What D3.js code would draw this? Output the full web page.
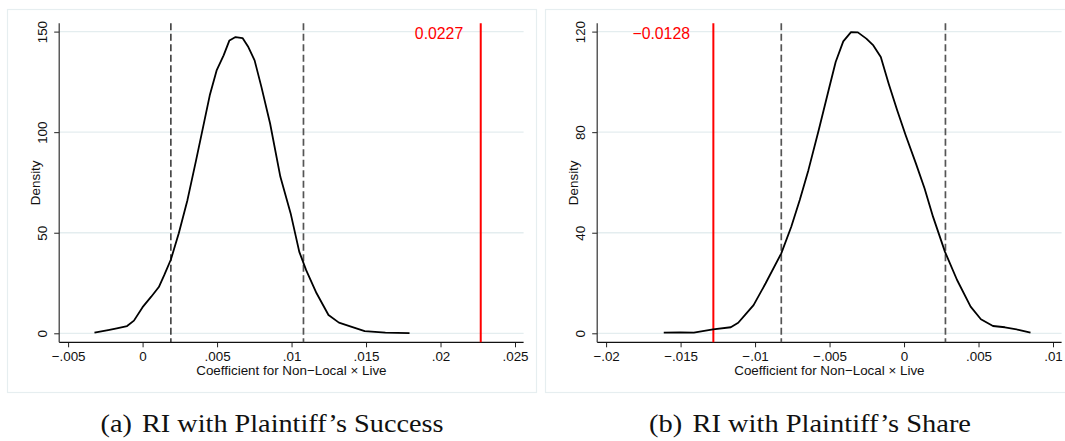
<!DOCTYPE html>
<html>
<head>
<meta charset="utf-8">
<script src="https://cdn.jsdelivr.net/npm/d3@7"></script>
<style>
  body { margin: 0; background: #fff; }
  text { font-family: "Liberation Sans", Arial, Helvetica, sans-serif; }
</style>
</head>
<body>
<svg id="chart" width="1065" height="441"></svg>
<script>
// density of the RI coefficients
const successX = [-0.00323, -0.00231, -0.00173, -0.00104, -0.00058, 0, 0.00058, 0.00109, 0.00146, 0.0019,
  0.00243, 0.00301, 0.00359, 0.00416, 0.00451, 0.00497, 0.00544, 0.00583, 0.00624, 0.00671,
  0.0071, 0.00752, 0.00798, 0.00856, 0.00925, 0.00994, 0.01052, 0.01098, 0.01168, 0.01248,
  0.01318, 0.01399, 0.01491, 0.0163, 0.01792]
const successY = [0.3, 1.6, 2.5, 3.6, 6.3, 13, 18.2, 23, 29, 36.7,
  49.7, 66.2, 86, 106, 118.3, 130.7, 138.2, 145.6, 147.3, 146.8,
  142.3, 135.7, 122.4, 104.3, 77.8, 59.6, 40.5, 31.4, 19.9, 9.1,
  5.3, 3.3, 1.1, 0.3, 0.1]
const successTicksX = [-0.005, 0, 0.005, 0.01, 0.015, 0.02, 0.025]
const successTicksY = [0, 50, 100, 150]
const successBounds = [0.0019, 0.0108]
const successActual = 0.0227
const successLabelAt = 0.0199

const shareX = [-0.01613, -0.01503, -0.01411, -0.01282, -0.01163, -0.01113, -0.01067, -0.0101, -0.00929, -0.00824,
  -0.00757, -0.007, -0.00642, -0.00573, -0.00504, -0.00459, -0.00408, -0.00356, -0.0031, -0.00253,
  -0.00206, -0.00156, -0.00103, -0.00046, 0.00011, 0.0008, 0.00138, 0.00195, 0.00275, 0.00356,
  0.00447, 0.00516, 0.00597, 0.00677, 0.00769, 0.00849]
const shareY = [0.3, 0.4, 0.3, 1.6, 2.4, 4.2, 7.3, 11.2, 19.9, 31.8,
  42.4, 53, 64.9, 80.8, 97.3, 107.9, 116.1, 119.8, 119.7, 117.2,
  114.5, 109.9, 99.3, 88.7, 78.8, 67.5, 57.6, 46.3, 32.4, 21.2,
  10.6, 5.6, 2.9, 2.4, 1.4, 0.3]
const shareTicksX = [-0.02, -0.015, -0.01, -0.005, 0, 0.005, 0.01]
const shareTicksY = [0, 40, 80, 120]
const shareBounds = [-0.00824, 0.00278]
const shareActual = -0.0128
const shareLabelAt = -0.0163

const captions = ['(a)', '(b)']
const captionTitles = ['RI with Plaintiff\u2019s Success', 'RI with Plaintiff\u2019s Share']
const xTitle = 'Coefficient for Non\u2212Local \u00d7 Live'
const yTitle = 'Density'

const svg = d3.select('#chart')

const MINUS = '\u2212'
const AXIS_FONT = '13.4px'
function fmtTick(d) {
  if (Math.abs(d) < 1e-12) return '0'
  let s = d3.format('.3~f')(Math.abs(d)).replace(/^0/, '')
  return (d < 0 ? MINUS : '') + s
}
function fmtActual(d) {
  return (d < 0 ? MINUS : '') + d3.format('.4f')(Math.abs(d))
}

function drawPanel(p, left) {
  let g = svg.append('g').attr('transform', `translate(${left}, 0)`)

  // outer frame (the right one runs past the page edge)
  g.append('rect')
    .attr('x', 0.5).attr('y', 9.5)
    .attr('width', 529).attr('height', 383)
    .attr('fill', 'none')
    .attr('stroke', '#e6eef0')
    .attr('stroke-width', 1.2)

  let plotL = 52.2, plotR = 516.6, plotT = 23.3, plotB = 342.3

  let x = d3.scaleLinear()
    .domain([p.ticksX[0], p.ticksX[p.ticksX.length - 1]])
    .range([61.1, 508])
  let yMax = p.ticksY[p.ticksY.length - 1]
  let y = d3.scaleLinear().domain([0, yMax]).range([333.3, 31.6])

  // grid
  g.append('g').selectAll('line')
    .data(p.ticksY)
    .join('line')
    .attr('x1', plotL).attr('x2', plotR)
    .attr('y1', d => y(d)).attr('y2', d => y(d))
    .attr('stroke', '#e4edef')
    .attr('stroke-width', 1.3)

  // x axis
  let xa = g.append('g')
    .attr('transform', `translate(0, ${plotB})`)
    .call(d3.axisBottom(x).tickValues(p.ticksX).tickFormat(fmtTick).tickSize(5).tickSizeOuter(0))
  xa.select('.domain').remove()
  xa.selectAll('.tick line').attr('stroke', '#222')
  xa.selectAll('.tick text')
    .attr('y', 18.5).attr('dy', null)
    .attr('fill', '#111')
    .style('font-size', AXIS_FONT)
  g.append('line')
    .attr('x1', plotL).attr('x2', plotR)
    .attr('y1', plotB).attr('y2', plotB)
    .attr('stroke', '#111').attr('stroke-width', 1.2)

  // y axis
  let ya = g.append('g')
    .attr('transform', `translate(${plotL}, 0)`)
    .call(d3.axisLeft(y).tickValues(p.ticksY).tickSize(5).tickSizeOuter(0))
  ya.select('.domain').remove()
  ya.selectAll('.tick line').attr('stroke', '#222')
  ya.selectAll('.tick text')
    .attr('x', null).attr('dy', null)
    .attr('text-anchor', 'middle')
    .attr('transform', 'translate(-12, 0) rotate(-90)')
    .attr('fill', '#111')
    .style('font-size', AXIS_FONT)
  g.append('line')
    .attr('x1', plotL).attr('x2', plotL)
    .attr('y1', plotT).attr('y2', plotB)
    .attr('stroke', '#333').attr('stroke-width', 1.2)

  // titles
  g.append('text')
    .attr('x', (plotL + plotR) / 2).attr('y', 375)
    .attr('text-anchor', 'middle')
    .attr('fill', '#111')
    .style('font-size', AXIS_FONT)
    .text(xTitle)
  g.append('text')
    .attr('transform', `translate(32.5, ${(plotT + plotB) / 2}) rotate(-90)`)
    .attr('text-anchor', 'middle')
    .attr('fill', '#111')
    .style('font-size', AXIS_FONT)
    .text(yTitle)

  // RI bounds
  g.append('g').selectAll('line')
    .data(p.bounds)
    .join('line')
    .attr('x1', d => x(d)).attr('x2', d => x(d))
    .attr('y1', plotT).attr('y2', plotB)
    .attr('stroke', (d, i) => p.boundColors[i])
    .attr('stroke-width', (d, i) => p.boundWidths[i])
    .attr('stroke-dasharray', '7,3.5')

  // estimated coefficient
  g.append('line')
    .attr('x1', x(p.actual)).attr('x2', x(p.actual))
    .attr('y1', plotT).attr('y2', plotB)
    .attr('stroke', '#ff0000')
    .attr('stroke-width', 2)
  g.append('text')
    .attr('x', x(p.labelAt)).attr('y', 38.5)
    .attr('text-anchor', 'middle')
    .attr('fill', '#ff0000')
    .style('font-size', '15.8px')
    .text(fmtActual(p.actual))

  // density curve
  let line = d3.line()
    .x(d => x(d[0]))
    .y(d => y(d[1]))
  g.append('path')
    .datum(d3.zip(p.xs, p.ys))
    .attr('d', line)
    .attr('fill', 'none')
    .attr('stroke', '#000')
    .attr('stroke-width', 1.8)
    .attr('stroke-linejoin', 'round')

  // caption, stretched to the width of the original Palatino line
  let cap = g.append('text')
    .attr('x', 265).attr('y', 432)
    .attr('text-anchor', 'middle')
    .attr('fill', '#111')
    .attr('textLength', p.captionWidth)
    .attr('lengthAdjust', 'spacingAndGlyphs')
    .style('font-family', '"Liberation Serif", "Times New Roman", serif')
    .style('font-size', '25px')
  cap.append('tspan').text(p.caption)
  cap.append('tspan').attr('dx', 9).text(p.captionTitle)
}

drawPanel({
  xs: successX, ys: successY,
  ticksX: successTicksX, ticksY: successTicksY,
  bounds: successBounds, boundColors: ['#111', '#555'], boundWidths: [1.3, 1.7],
  actual: successActual, labelAt: successLabelAt,
  caption: captions[0], captionTitle: captionTitles[0], captionWidth: 343
}, 7)

drawPanel({
  xs: shareX, ys: shareY,
  ticksX: shareTicksX, ticksY: shareTicksY,
  bounds: shareBounds, boundColors: ['#555', '#555'], boundWidths: [1.7, 1.7],
  actual: shareActual, labelAt: shareLabelAt,
  caption: captions[1], captionTitle: captionTitles[1], captionWidth: 322
}, 545)
</script>
</body>
</html>
